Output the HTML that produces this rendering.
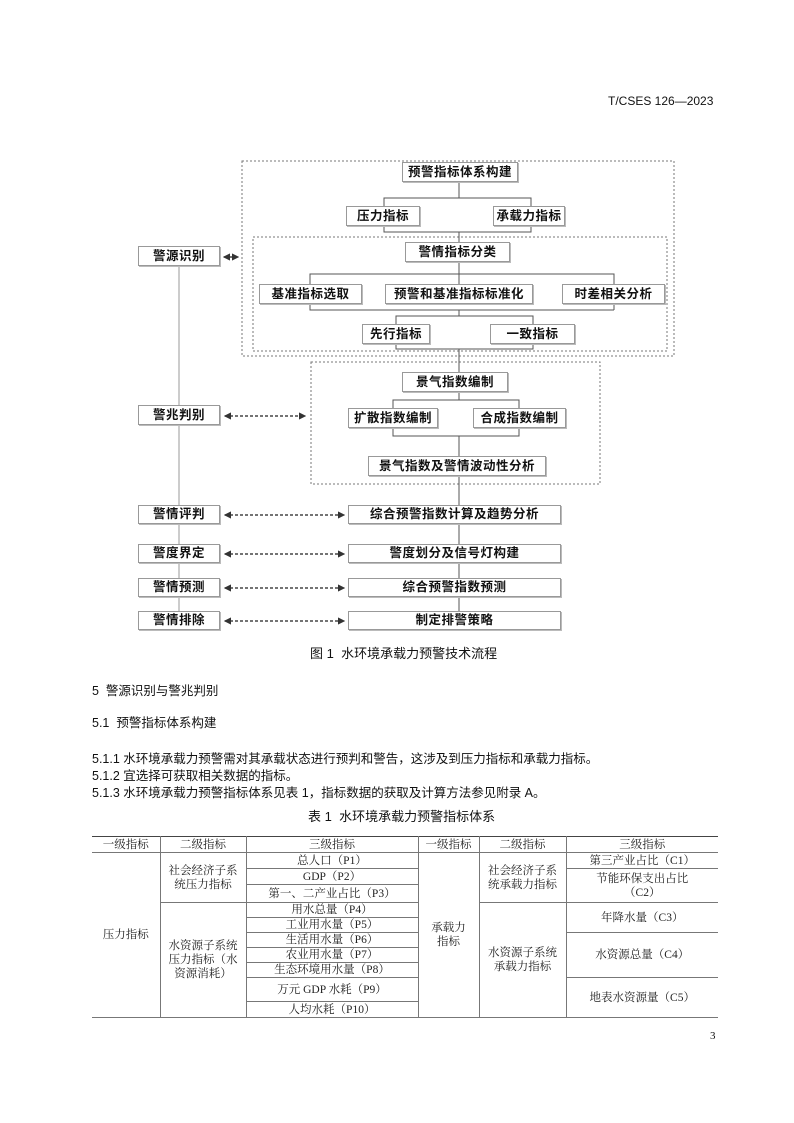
<!DOCTYPE html>
<html><head><meta charset="utf-8"><style>
body{margin:0;background:#fff}
#p{position:relative;width:794px;height:1123px;overflow:hidden;font-family:"Liberation Sans","Noto Sans CJK SC",sans-serif;color:#111}
.b{position:absolute;border:1px solid #999;box-shadow:1px 1px 0 #bbb;font-weight:bold;font-size:12.5px;text-align:center;background:#fff;box-sizing:border-box;letter-spacing:0.5px}
.t{position:absolute;white-space:nowrap;font-size:12.5px}
.s{font-family:"Liberation Serif","Noto Serif CJK SC",serif}
table{position:absolute;left:92px;top:836px;width:626px;border-collapse:collapse;font-family:"Liberation Serif","Noto Serif CJK SC",serif;font-size:11.5px;table-layout:fixed}
td{border:1px solid #777;text-align:center;padding:0;line-height:14px;color:#222}
td.l{border-left:none}
td.r{border-right:none}
tr.h td{border-top:1.5px solid #444}
</style></head><body><div id="p">
<div class="t" style="left:608px;top:94px;font-size:12px">T/CSES 126—2023</div>

<svg width="794" height="1123" style="position:absolute;left:0;top:0">
<defs><marker id="a" markerWidth="6" markerHeight="6" refX="5" refY="3" orient="auto"><path d="M0,0 L6,3 L0,6z" fill="#333"/></marker>
<marker id="s" markerWidth="6" markerHeight="6" refX="1" refY="3" orient="auto"><path d="M6,0 L0,3 L6,6z" fill="#333"/></marker></defs>
<g fill="none" stroke="#777" stroke-dasharray="2,2">
<rect x="242" y="161" width="432" height="195"/>
<rect x="253" y="237" width="414" height="114"/>
<rect x="311" y="362" width="289" height="122"/>
</g>
<g fill="none" stroke="#555" stroke-width="1">
<path d="M459 182V198 M384 206V198H531V206"/>
<path d="M384 226V232H531V226 M459 232V242"/>
<path d="M459 262V274 M310 284V274H614V284 M459 274V284"/>
<path d="M310 304V310H614V310 M614 304V310 M459 310V316 M396 324V316H533V324"/>
<path d="M396 344V349H533V344 M459 349V372"/>
<path d="M459 392V400 M393 408V400H519V408"/>
<path d="M393 428V436H519V428 M459 436V456"/>
<path d="M459 476V505 M459 524V544 M459 563V578 M459 597V611"/>
</g>
<g stroke="#999"><path d="M179 266V611"/></g>
<g stroke="#222" stroke-dasharray="3,2" stroke-width="1.2">
<line x1="224" y1="257" x2="238" y2="257" marker-start="url(#s)" marker-end="url(#a)"/>
<line x1="225" y1="416" x2="305" y2="416" marker-start="url(#s)" marker-end="url(#a)"/>
<line x1="225" y1="515" x2="344" y2="515" marker-start="url(#s)" marker-end="url(#a)"/>
<line x1="225" y1="554" x2="344" y2="554" marker-start="url(#s)" marker-end="url(#a)"/>
<line x1="225" y1="588" x2="344" y2="588" marker-start="url(#s)" marker-end="url(#a)"/>
<line x1="225" y1="621" x2="344" y2="621" marker-start="url(#s)" marker-end="url(#a)"/>
</g>
</svg>

<div class="b" style="left:402px;top:162px;width:116px;height:20px;line-height:18px">预警指标体系构建</div>
<div class="b" style="left:346px;top:206px;width:74px;height:20px;line-height:18px">压力指标</div>
<div class="b" style="left:493px;top:206px;width:72px;height:20px;line-height:18px">承载力指标</div>
<div class="b" style="left:405px;top:242px;width:105px;height:20px;line-height:18px">警情指标分类</div>
<div class="b" style="left:259px;top:284px;width:103px;height:20px;line-height:18px">基准指标选取</div>
<div class="b" style="left:385px;top:284px;width:148px;height:20px;line-height:18px">预警和基准指标标准化</div>
<div class="b" style="left:562px;top:284px;width:103px;height:20px;line-height:18px">时差相关分析</div>
<div class="b" style="left:362px;top:324px;width:68px;height:20px;line-height:18px">先行指标</div>
<div class="b" style="left:490px;top:324px;width:85px;height:20px;line-height:18px">一致指标</div>
<div class="b" style="left:138px;top:246px;width:82px;height:20px;line-height:18px">警源识别</div>

<div class="b" style="left:402px;top:372px;width:106px;height:20px;line-height:18px">景气指数编制</div>
<div class="b" style="left:348px;top:408px;width:90px;height:20px;line-height:18px">扩散指数编制</div>
<div class="b" style="left:473px;top:408px;width:93px;height:20px;line-height:18px">合成指数编制</div>
<div class="b" style="left:368px;top:456px;width:178px;height:20px;line-height:18px">景气指数及警情波动性分析</div>
<div class="b" style="left:138px;top:405px;width:82px;height:20px;line-height:18px">警兆判别</div>

<div class="b" style="left:138px;top:505px;width:82px;height:19px;line-height:17px">警情评判</div>
<div class="b" style="left:138px;top:544px;width:82px;height:19px;line-height:17px">警度界定</div>
<div class="b" style="left:138px;top:578px;width:82px;height:19px;line-height:17px">警情预测</div>
<div class="b" style="left:138px;top:611px;width:82px;height:19px;line-height:17px">警情排除</div>
<div class="b" style="left:348px;top:505px;width:213px;height:19px;line-height:17px">综合预警指数计算及趋势分析</div>
<div class="b" style="left:348px;top:544px;width:213px;height:19px;line-height:17px">警度划分及信号灯构建</div>
<div class="b" style="left:348px;top:578px;width:213px;height:19px;line-height:17px">综合预警指数预测</div>
<div class="b" style="left:348px;top:611px;width:213px;height:19px;line-height:17px">制定排警策略</div>

<div class="t" style="left:310px;top:643px;font-size:13px">图 1&nbsp; 水环境承载力预警技术流程</div>
<div class="t" style="left:92px;top:680px">5&nbsp; 警源识别与警兆判别</div>
<div class="t" style="left:92px;top:712px">5.1&nbsp; 预警指标体系构建</div>
<div class="t" style="left:92px;top:748px">5.1.1 水环境承载力预警需对其承载状态进行预判和警告，这涉及到压力指标和承载力指标。</div>
<div class="t" style="left:92px;top:765px">5.1.2 宜选择可获取相关数据的指标。</div>
<div class="t" style="left:92px;top:782px">5.1.3 水环境承载力预警指标体系见表 1，指标数据的获取及计算方法参见附录 A。</div>
<div class="t" style="left:308px;top:806px;font-size:13px">表 1&nbsp; 水环境承载力预警指标体系</div>

<table>
<colgroup><col style="width:68px"><col style="width:86px"><col style="width:172px"><col style="width:61px"><col style="width:87px"><col style="width:152px"></colgroup>
<tr class="h" style="height:16px"><td class="l">一级指标</td><td>二级指标</td><td>三级指标</td><td>一级指标</td><td>二级指标</td><td class="r">三级指标</td></tr>
<tr style="height:16px"><td rowspan="10" class="l">压力指标</td><td rowspan="3">社会经济子系<br>统压力指标</td><td>总人口（P1）</td><td rowspan="10">承载力<br>指标</td><td rowspan="3">社会经济子系<br>统承载力指标</td><td class="r">第三产业占比（C1）</td></tr>
<tr style="height:16px"><td>GDP（P2）</td><td rowspan="2" class="r">节能环保支出占比<br>（C2）</td></tr>
<tr style="height:18px"><td>第一、二产业占比（P3）</td></tr>
<tr style="height:15px"><td rowspan="7">水资源子系统<br>压力指标（水<br>资源消耗）</td><td>用水总量（P4）</td><td rowspan="7">水资源子系统<br>承载力指标</td><td rowspan="2" class="r">年降水量（C3）</td></tr>
<tr style="height:15px"><td>工业用水量（P5）</td></tr>
<tr style="height:15px"><td>生活用水量（P6）</td><td rowspan="3" class="r">水资源总量（C4）</td></tr>
<tr style="height:15px"><td>农业用水量（P7）</td></tr>
<tr style="height:15px"><td>生态环境用水量（P8）</td></tr>
<tr style="height:24px"><td>万元 GDP 水耗（P9）</td><td rowspan="2" class="r">地表水资源量（C5）</td></tr>
<tr style="height:16px"><td>人均水耗（P10）</td></tr>
</table>
<div class="t s" style="left:710px;top:1030px;font-size:11px">3</div>
</div></body></html>
